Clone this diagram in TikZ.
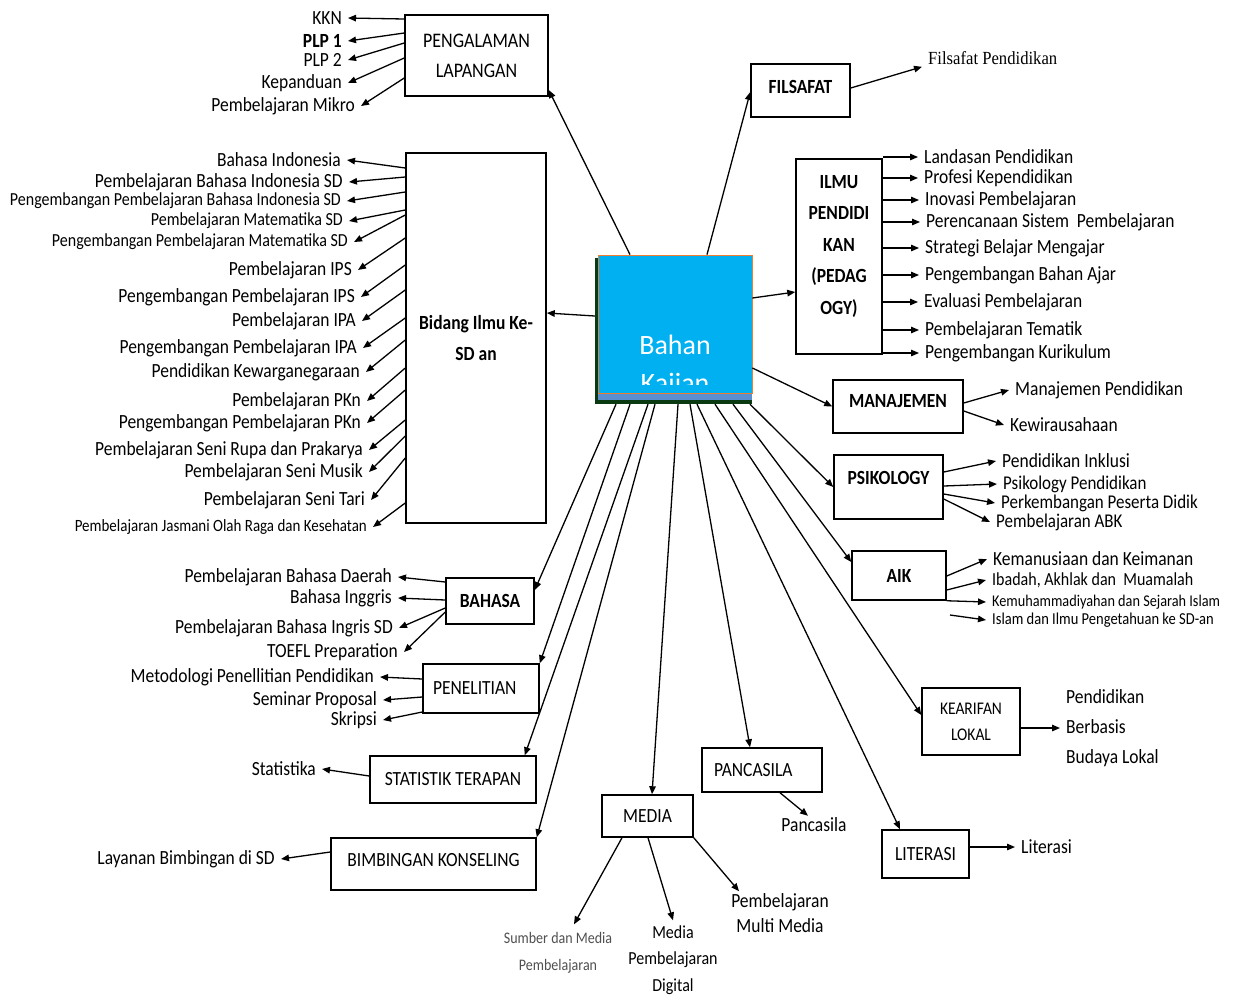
\documentclass[tikz,border=0pt]{standalone}
\usepackage{fontspec}
\setmainfont{Carlito}[FakeStretch=0.87]
\newfontfamily\polos{Carlito}
\newfontfamily\serifpd{Liberation Serif}[FakeStretch=0.9]
\usetikzlibrary{arrows.meta}

\definecolor{biru}{HTML}{00B0F0}
\definecolor{oranye}{HTML}{ED7D31}
\definecolor{birutua}{HTML}{5B8FCF}
\definecolor{hijautua}{HTML}{0A3A12}
\definecolor{abu}{HTML}{505050}

\tikzset{
  kotak/.style={draw, line width=1.5pt, inner sep=0pt, font=\fontsize{20.1}{24}\selectfont},
  tebal/.style={kotak, font=\fontsize{20.1}{24}\selectfont\bfseries},
  daun/.style={inner xsep=6pt, inner ysep=2pt, font=\fontsize{20.1}{24}\selectfont},
  kiri/.style={daun, anchor=east},
  kanan/.style={daun, anchor=west},
  pil/.style={-{Triangle[length=8pt,width=6.5pt]}, line width=1.3pt},
}

\begin{document}
\begin{tikzpicture}[x=1pt,y=-1pt]
	\path[fill=white] (0,0) rectangle (1233,996);
	\useasboundingbox (0,0) rectangle (1233,996);
	
	% pusat
	\node[fill=hijautua, inner sep=0pt, minimum width=157pt, minimum height=146pt] (bayang) at (673.5,331) {};
	\fill[birutua] (598,388) rectangle (752,400);
	\node[fill=biru, draw=oranye, line width=0.8pt, inner sep=0pt, minimum width=154pt, minimum height=138pt] (bahan) at (675,324) {};
	\begin{scope}
		\clip (598,255) rectangle (752,384);
		\node[text=white, align=center, font=\fontsize{28}{38}\polos] (judul) at (675,366) {Bahan\\Kajian};
	\end{scope}
	
	% kotak
	\node[kotak, minimum width=143pt, minimum height=81pt, align=center, font=\fontsize{20.7}{30}\selectfont] (peng) at (476.5,55.5) {PENGALAMAN\\LAPANGAN};
	\node[tebal, minimum width=99pt, minimum height=53pt, text depth=7pt] (fil) at (800.5,90.5) {FILSAFAT};
	\node[tebal, minimum width=140pt, minimum height=370pt, align=center, font=\fontsize{20.1}{31}\selectfont\bfseries] (bidang) at (476,338) {Bidang Ilmu Ke-\\SD an};
	\node[tebal, minimum width=86pt, minimum height=195pt] (ilmu) at (839,256.5) {\renewcommand{\arraystretch}{1.31}\begin{tabular}{@{}c@{}}ILMU\\PENDIDI\\KAN\\(PEDAG\\OGY)\\[23pt]\end{tabular}};
	\node[tebal, minimum width=130pt, minimum height=53pt, text depth=11pt] (man) at (898,406.5) {MANAJEMEN};
	\node[tebal, minimum width=109pt, minimum height=64pt, text depth=18pt] (psi) at (888.5,487) {PSIKOLOGY};
	\node[tebal, minimum width=94pt, minimum height=49pt] (aik) at (899,575.5) {AIK};
	\node[kotak, minimum width=98pt, minimum height=67pt, align=center, font=\fontsize{17.8}{26}\selectfont] (kear) at (971,721.5) {KEARIFAN\\LOKAL};
	\node[kotak, minimum width=87pt, minimum height=48pt] (lit) at (925.5,854) {LITERASI};
	\node[kotak, minimum height=44pt, text width=96pt, inner xsep=12pt, align=left] (panc) at (762,770) {PANCASILA};
	\node[kotak, minimum width=91pt, minimum height=42pt] (media) at (647.5,816) {MEDIA};
	\node[tebal, minimum width=88pt, minimum height=46pt] (bahasa) at (490,601) {BAHASA};
	\node[kotak, minimum height=49pt, text width=96pt, inner xsep=10pt, align=left] (pen) at (481,688.5) {PENELITIAN};
	\node[kotak, minimum width=166pt, minimum height=47pt] (stat) at (453,779.5) {STATISTIK TERAPAN};
	\node[kotak, minimum width=205pt, minimum height=52pt, text depth=8pt] (bk) at (433.5,864) {BIMBINGAN KONSELING};
	
	% pengalaman lapangan
	\node[kiri] (kkn) at (348,18) {KKN};
	\node[kiri, font=\fontsize{20.1}{24}\selectfont\bfseries] (plp1) at (348,41) {PLP 1};
	\node[kiri] (plp2) at (348,60) {PLP 2};
	\node[kiri] (kep) at (348,83) {Kepanduan};
	\node[kiri] (mikro) at (361,106) {Pembelajaran Mikro};
	
	% bidang ilmu
	\node[kiri] (bi1) at (347,160) {Bahasa Indonesia};
	\node[kiri] (bi2) at (349,182) {Pembelajaran Bahasa Indonesia SD};
	\node[kiri, font=\fontsize{18.4}{22}\selectfont] (bi3) at (347,201) {Pengembangan Pembelajaran Bahasa Indonesia SD};
	\node[kiri, font=\fontsize{18.4}{22}\selectfont] (bi4) at (349,221) {Pembelajaran Matematika SD};
	\node[kiri, font=\fontsize{18.4}{22}\selectfont] (bi5) at (354,242) {Pengembangan Pembelajaran Matematika SD};
	\node[kiri] (bi6) at (358,270) {Pembelajaran IPS};
	\node[kiri] (bi7) at (361,297) {Pengembangan Pembelajaran IPS};
	\node[kiri] (bi8) at (362,321) {Pembelajaran IPA};
	\node[kiri] (bi9) at (363,348) {Pengembangan Pembelajaran IPA};
	\node[kiri] (bi10) at (366,372) {Pendidikan Kewarganegaraan};
	\node[kiri] (bi11) at (367,401) {Pembelajaran PKn};
	\node[kiri] (bi12) at (367,423) {Pengembangan Pembelajaran PKn};
	\node[kiri] (bi13) at (369,450) {Pembelajaran Seni Rupa dan Prakarya};
	\node[kiri] (bi14) at (369,472) {Pembelajaran Seni Musik};
	\node[kiri] (bi15) at (371,500) {Pembelajaran Seni Tari};
	\node[kiri, font=\fontsize{17.2}{20}\selectfont] (bi16) at (373,527) {Pembelajaran Jasmani Olah Raga dan Kesehatan};
	
	% ilmu pendidikan
	\node[kanan] (l1) at (918,157) {Landasan Pendidikan};
	\node[kanan] (l2) at (918,178) {Profesi Kependidikan};
	\node[kanan] (l3) at (919,200) {Inovasi Pembelajaran};
	\node[kanan] (l4) at (920,222) {Perencanaan Sistem\ \ Pembelajaran};
	\node[kanan] (l5) at (919,248) {Strategi Belajar Mengajar};
	\node[kanan] (l6) at (919,275) {Pengembangan Bahan Ajar};
	\node[kanan] (l7) at (918,302) {Evaluasi Pembelajaran};
	\node[kanan] (l8) at (919,330) {Pembelajaran Tematik};
	\node[kanan] (l9) at (919,353) {Pengembangan Kurikulum};
	
	% filsafat, manajemen, psikologi, aik
	\node[kanan, font=\fontsize{18.5}{22}\serifpd] (fp) at (922,58) {Filsafat Pendidikan};
	\node[kanan] (mp) at (1009,390) {Manajemen Pendidikan};
	\node[kanan] (kw) at (1004,425) {Kewirausahaan};
	\node[kanan] (pi) at (996,461) {Pendidikan Inklusi};
	\node[kanan, font=\fontsize{19.5}{23}\selectfont] (pp) at (997,484) {Psikology Pendidikan};
	\node[kanan, font=\fontsize{19.5}{23}\selectfont] (ppd) at (995,503) {Perkembangan Peserta Didik};
	\node[kanan, font=\fontsize{19.5}{23}\selectfont] (abk) at (990,522) {Pembelajaran ABK};
	\node[kanan] (km) at (987,559) {Kemanusiaan dan Keimanan};
	\node[kanan, font=\fontsize{18.4}{22}\selectfont] (iam) at (986,580) {Ibadah, Akhlak dan\ \ Muamalah};
	\node[kanan, font=\fontsize{16.4}{19}\selectfont] (kse) at (986,602) {Kemuhammadiyahan dan Sejarah Islam};
	\node[kanan, font=\fontsize{16.7}{19}\selectfont] (iip) at (986,620) {Islam dan Ilmu Pengetahuan ke SD-an};
	\coordinate (lepas) at (950,615);
	
	% bawah kanan
	\node[kanan, align=left, font=\fontsize{20.1}{30}\selectfont] (pbb) at (1060,728) {Pendidikan\\Berbasis\\Budaya Lokal};
	\node[kanan] (lt) at (1015,847) {Literasi};
	\node[daun] (pl) at (814,825) {Pancasila};
	
	% media
	\node[daun, inner ysep=8pt, align=center, text=abu, font=\fontsize{16.1}{27}\selectfont] (sm) at (558,953) {Sumber dan Media\\Pembelajaran};
	\node[daun, inner ysep=5pt, align=center, font=\fontsize{18.4}{26.5}\selectfont] (mpd) at (673,960) {Media\\Pembelajaran\\Digital};
	\node[daun, align=center, font=\fontsize{20.1}{25}\selectfont] (pmm) at (780,913) {Pembelajaran\\Multi Media};
	
	% bawah kiri
	\node[kiri] (bd) at (398,577) {Pembelajaran Bahasa Daerah};
	\node[kiri] (bing) at (398,598) {Bahasa Inggris};
	\node[kiri] (bis) at (399,628) {Pembelajaran Bahasa Ingris SD};
	\node[kiri] (toefl) at (404,652) {TOEFL Preparation};
	\node[kiri] (mpp) at (380,677) {Metodologi Penellitian Pendidikan};
	\node[kiri] (sp) at (383,700) {Seminar Proposal};
	\node[kiri] (skr) at (383,720) {Skripsi};
	\node[kiri] (stk) at (322,769) {Statistika};
	\node[kiri] (lbs) at (281,859) {Layanan Bimbingan di SD};
	
	% dari pusat
	\path[pil] ([xshift=-45pt]bahan.north) edge ([yshift=-34.5pt]peng.east);
	\path[pil] ([xshift=32pt]bahan.north) edge ([yshift=-1.5pt]fil.west);
	\path[pil] ([yshift=15pt]bayang.west) edge ([yshift=25pt]bidang.east);
	\path[pil] ([yshift=26pt]bahan.east) edge ([yshift=-35.5pt]ilmu.west);
	\path[pil] ([yshift=-44pt]bahan.east) edge (man.west);
	\path[pil] ([xshift=-57.5pt]bayang.south) edge ([yshift=11pt]bahasa.east);
	\path[pil] ([xshift=-43.5pt]bayang.south) edge (pen.north east);
	\path[pil] ([xshift=-25.5pt]bayang.south) edge ([xshift=-12pt]stat.north east);
	\path[pil] ([xshift=-18.5pt]bayang.south) edge (bk.north east);
	\path[pil] ([xshift=4.5pt]bayang.south) edge ([xshift=4.5pt]media.north);
	\path[pil] ([xshift=16.5pt]bayang.south) edge ([xshift=-12pt]panc.north);
	\path[pil] ([xshift=23.5pt]bayang.south) edge ([xshift=-25.5pt]lit.north);
	\path[pil] ([xshift=41.5pt]bayang.south) edge ([yshift=6.5pt]kear.west);
	\path[pil] ([xshift=59.5pt]bayang.south) edge ([yshift=13.5pt]aik.west);
	\path[pil] ([xshift=76.5pt]bayang.south) edge (psi.west);
	
	% ke daun
	\path[pil] ([yshift=36.5pt]peng.west) edge (kkn.east);
	\path[pil] ([yshift=22.5pt]peng.west) edge (plp1.east);
	\path[pil] ([yshift=12.5pt]peng.west) edge (plp2.east);
	\path[pil] ([yshift=-2.5pt]peng.west) edge (kep.east);
	\path[pil] ([yshift=-22.5pt]peng.west) edge (mikro.east);
	
	\path[pil] ([yshift=170pt]bidang.west) edge (bi1.east);
	\path[pil] ([yshift=161pt]bidang.west) edge (bi2.east);
	\path[pil] ([yshift=146pt]bidang.west) edge (bi3.east);
	\path[pil] ([yshift=128pt]bidang.west) edge (bi4.east);
	\path[pil] ([yshift=123pt]bidang.west) edge (bi5.east);
	\path[pil] ([yshift=100pt]bidang.west) edge (bi6.east);
	\path[pil] ([yshift=73pt]bidang.west) edge (bi7.east);
	\path[pil] ([yshift=48pt]bidang.west) edge (bi8.east);
	\path[pil] ([yshift=20pt]bidang.west) edge (bi9.east);
	\path[pil] ([yshift=-2pt]bidang.west) edge (bi10.east);
	\path[pil] ([yshift=-30pt]bidang.west) edge (bi11.east);
	\path[pil] ([yshift=-52pt]bidang.west) edge (bi12.east);
	\path[pil] ([yshift=-82pt]bidang.west) edge (bi13.east);
	\path[pil] ([yshift=-98pt]bidang.west) edge (bi14.east);
	\path[pil] ([yshift=-120pt]bidang.west) edge (bi15.east);
	\path[pil] ([yshift=-165pt]bidang.west) edge (bi16.east);
	
	\path[pil] (ilmu.east |- l1.west) edge (l1.west);
	\path[pil] (ilmu.east |- l2.west) edge (l2.west);
	\path[pil] (ilmu.east |- l3.west) edge (l3.west);
	\path[pil] (ilmu.east |- l4.west) edge (l4.west);
	\path[pil] (ilmu.east |- l5.west) edge (l5.west);
	\path[pil] (ilmu.east |- l6.west) edge (l6.west);
	\path[pil] (ilmu.east |- l7.west) edge (l7.west);
	\path[pil] (ilmu.east |- l8.west) edge (l8.west);
	\path[pil] (ilmu.east |- l9.west) edge (l9.west);
	
	\path[pil] ([yshift=2.5pt]fil.east) edge (fp.south west);
	\path[pil] ([yshift=3.5pt]man.east) edge (mp.west);
	\path[pil] ([yshift=-4.5pt]man.east) edge (kw.west);
	\path[pil] ([yshift=15pt]psi.east) edge (pi.west);
	\path[pil] ([yshift=1pt]psi.east) edge (pp.west);
	\path[pil] ([yshift=-7pt]psi.east) edge (ppd.west);
	\path[pil] ([yshift=-12pt]psi.east) edge (abk.west);
	\path[pil] ([yshift=-0.5pt]aik.east) edge (km.west);
	\path[pil] ([yshift=-14.5pt]aik.east) edge (iam.west);
	\path[pil] (aik.south east) edge (kse.west);
	\path[pil] (lepas) edge (iip.west);
	
	\path[pil] (kear.east |- pbb.west) edge (pbb.west);
	\path[pil] ([yshift=7pt]lit.east) edge (lt.west);
	\path[pil] ([xshift=18pt]panc.south) edge ([xshift=-6pt]pl.north);
	\path[pil] ([xshift=-25.5pt]media.south) edge ([xshift=16pt]sm.north);
	\path[pil] ([xshift=0.5pt]media.south) edge (mpd.north);
	\path[pil] (media.south east) edge ([xshift=14pt]pmm.north west);
	
	\path[pil] ([yshift=19pt]bahasa.west) edge (bd.east);
	\path[pil] ([yshift=1pt]bahasa.west) edge (bing.east);
	\path[pil] ([yshift=-7pt]bahasa.west) edge (bis.east);
	\path[pil] ([yshift=-11pt]bahasa.west) edge (toefl.east);
	\path[pil] ([yshift=9.5pt]pen.west) edge (mpp.east);
	\path[pil] ([yshift=-8.5pt]pen.west) edge (sp.east);
	\path[pil] ([yshift=-23.5pt]pen.west) edge (skr.east);
	\path[pil] ([yshift=3.5pt]stat.west) edge (stk.east);
	\path[pil] ([yshift=12pt]bk.west) edge (lbs.east);
\end{tikzpicture}
\end{document}
